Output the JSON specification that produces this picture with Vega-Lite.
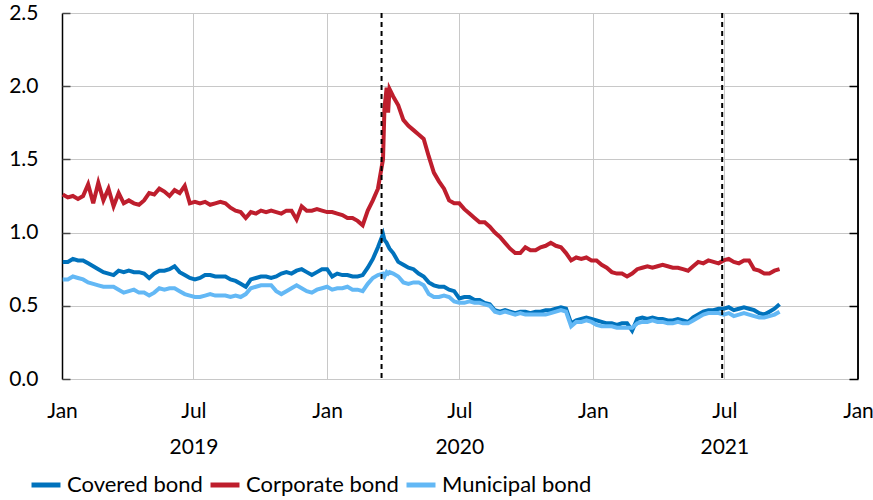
{
 "$schema": "https://vega.github.io/schema/vega-lite/v6.json",
 "width": 796, "height": 366,
 "autosize": {"type": "none"},
 "padding": {"left": 62, "top": 13, "right": 15, "bottom": 121},
 "config": {"font": "Lato", "view": {"stroke": null}, "axis": {"labelFont": "Lato", "labelFontSize": 21, "labelColor": "#000"}},
 "datasets": {
  "main": [
{"d":"2019-01-02","cov":0.80,"corp":1.26,"mun":0.68},
{"d":"2019-01-09","cov":0.80,"corp":1.24,"mun":0.68},
{"d":"2019-01-16","cov":0.82,"corp":1.25,"mun":0.70},
{"d":"2019-01-23","cov":0.81,"corp":1.23,"mun":0.69},
{"d":"2019-01-30","cov":0.81,"corp":1.25,"mun":0.68},
{"d":"2019-02-06","cov":0.79,"corp":1.33,"mun":0.66},
{"d":"2019-02-13","cov":0.77,"corp":1.20,"mun":0.65},
{"d":"2019-02-20","cov":0.75,"corp":1.34,"mun":0.64},
{"d":"2019-02-27","cov":0.73,"corp":1.22,"mun":0.63},
{"d":"2019-03-06","cov":0.72,"corp":1.30,"mun":0.63},
{"d":"2019-03-13","cov":0.71,"corp":1.18,"mun":0.63},
{"d":"2019-03-20","cov":0.74,"corp":1.27,"mun":0.61},
{"d":"2019-03-27","cov":0.73,"corp":1.20,"mun":0.59},
{"d":"2019-04-03","cov":0.74,"corp":1.22,"mun":0.60},
{"d":"2019-04-10","cov":0.73,"corp":1.20,"mun":0.61},
{"d":"2019-04-17","cov":0.73,"corp":1.19,"mun":0.59},
{"d":"2019-04-24","cov":0.72,"corp":1.22,"mun":0.59},
{"d":"2019-05-01","cov":0.69,"corp":1.27,"mun":0.57},
{"d":"2019-05-08","cov":0.72,"corp":1.26,"mun":0.59},
{"d":"2019-05-15","cov":0.74,"corp":1.30,"mun":0.62},
{"d":"2019-05-22","cov":0.74,"corp":1.28,"mun":0.61},
{"d":"2019-05-29","cov":0.75,"corp":1.25,"mun":0.62},
{"d":"2019-06-05","cov":0.77,"corp":1.29,"mun":0.62},
{"d":"2019-06-12","cov":0.73,"corp":1.27,"mun":0.60},
{"d":"2019-06-19","cov":0.71,"corp":1.32,"mun":0.58},
{"d":"2019-06-26","cov":0.69,"corp":1.20,"mun":0.57},
{"d":"2019-07-03","cov":0.68,"corp":1.21,"mun":0.56},
{"d":"2019-07-10","cov":0.69,"corp":1.20,"mun":0.56},
{"d":"2019-07-17","cov":0.71,"corp":1.21,"mun":0.57},
{"d":"2019-07-24","cov":0.71,"corp":1.19,"mun":0.58},
{"d":"2019-07-31","cov":0.70,"corp":1.20,"mun":0.57},
{"d":"2019-08-07","cov":0.70,"corp":1.21,"mun":0.57},
{"d":"2019-08-14","cov":0.70,"corp":1.20,"mun":0.57},
{"d":"2019-08-21","cov":0.68,"corp":1.17,"mun":0.56},
{"d":"2019-08-28","cov":0.67,"corp":1.15,"mun":0.57},
{"d":"2019-09-04","cov":0.65,"corp":1.14,"mun":0.56},
{"d":"2019-09-11","cov":0.63,"corp":1.10,"mun":0.58},
{"d":"2019-09-18","cov":0.68,"corp":1.14,"mun":0.62},
{"d":"2019-09-25","cov":0.69,"corp":1.13,"mun":0.63},
{"d":"2019-10-02","cov":0.70,"corp":1.15,"mun":0.64},
{"d":"2019-10-09","cov":0.70,"corp":1.14,"mun":0.64},
{"d":"2019-10-16","cov":0.69,"corp":1.15,"mun":0.64},
{"d":"2019-10-23","cov":0.70,"corp":1.14,"mun":0.60},
{"d":"2019-10-30","cov":0.72,"corp":1.13,"mun":0.58},
{"d":"2019-11-06","cov":0.73,"corp":1.15,"mun":0.60},
{"d":"2019-11-13","cov":0.72,"corp":1.15,"mun":0.62},
{"d":"2019-11-20","cov":0.74,"corp":1.09,"mun":0.64},
{"d":"2019-11-27","cov":0.75,"corp":1.18,"mun":0.62},
{"d":"2019-12-04","cov":0.73,"corp":1.15,"mun":0.60},
{"d":"2019-12-11","cov":0.71,"corp":1.15,"mun":0.59},
{"d":"2019-12-18","cov":0.73,"corp":1.16,"mun":0.61},
{"d":"2019-12-25","cov":0.75,"corp":1.15,"mun":0.62},
{"d":"2020-01-01","cov":0.75,"corp":1.14,"mun":0.63},
{"d":"2020-01-08","cov":0.70,"corp":1.14,"mun":0.61},
{"d":"2020-01-15","cov":0.72,"corp":1.13,"mun":0.62},
{"d":"2020-01-22","cov":0.71,"corp":1.12,"mun":0.62},
{"d":"2020-01-29","cov":0.71,"corp":1.10,"mun":0.63},
{"d":"2020-02-05","cov":0.70,"corp":1.10,"mun":0.61},
{"d":"2020-02-12","cov":0.70,"corp":1.08,"mun":0.61},
{"d":"2020-02-19","cov":0.71,"corp":1.05,"mun":0.60},
{"d":"2020-02-26","cov":0.76,"corp":1.15,"mun":0.65},
{"d":"2020-03-04","cov":0.82,"corp":1.22,"mun":0.69},
{"d":"2020-03-11","cov":0.90,"corp":1.30,"mun":0.71},
{"d":"2020-03-18","cov":0.99,"corp":1.50,"mun":0.72},
{"d":"2020-03-20","cov":0.95,"corp":1.85,"mun":0.70},
{"d":"2020-03-23","cov":0.93,"corp":1.99,"mun":0.73},
{"d":"2020-03-25","cov":0.91,"corp":1.82,"mun":0.72},
{"d":"2020-03-27","cov":0.89,"corp":1.98,"mun":0.73},
{"d":"2020-04-01","cov":0.86,"corp":1.93,"mun":0.72},
{"d":"2020-04-08","cov":0.80,"corp":1.87,"mun":0.70},
{"d":"2020-04-15","cov":0.78,"corp":1.77,"mun":0.66},
{"d":"2020-04-22","cov":0.76,"corp":1.73,"mun":0.65},
{"d":"2020-04-29","cov":0.75,"corp":1.70,"mun":0.66},
{"d":"2020-05-06","cov":0.72,"corp":1.67,"mun":0.66},
{"d":"2020-05-13","cov":0.70,"corp":1.64,"mun":0.64},
{"d":"2020-05-20","cov":0.66,"corp":1.52,"mun":0.58},
{"d":"2020-05-27","cov":0.64,"corp":1.41,"mun":0.56},
{"d":"2020-06-03","cov":0.63,"corp":1.35,"mun":0.56},
{"d":"2020-06-10","cov":0.63,"corp":1.30,"mun":0.57},
{"d":"2020-06-17","cov":0.61,"corp":1.22,"mun":0.56},
{"d":"2020-06-24","cov":0.60,"corp":1.20,"mun":0.53},
{"d":"2020-07-01","cov":0.55,"corp":1.20,"mun":0.52},
{"d":"2020-07-08","cov":0.56,"corp":1.16,"mun":0.52},
{"d":"2020-07-15","cov":0.56,"corp":1.13,"mun":0.53},
{"d":"2020-07-22","cov":0.54,"corp":1.10,"mun":0.52},
{"d":"2020-07-29","cov":0.54,"corp":1.07,"mun":0.52},
{"d":"2020-08-05","cov":0.52,"corp":1.07,"mun":0.51},
{"d":"2020-08-12","cov":0.51,"corp":1.04,"mun":0.50},
{"d":"2020-08-19","cov":0.47,"corp":1.00,"mun":0.46},
{"d":"2020-08-26","cov":0.46,"corp":0.97,"mun":0.45},
{"d":"2020-09-02","cov":0.47,"corp":0.93,"mun":0.46},
{"d":"2020-09-09","cov":0.46,"corp":0.89,"mun":0.45},
{"d":"2020-09-16","cov":0.45,"corp":0.86,"mun":0.44},
{"d":"2020-09-23","cov":0.46,"corp":0.86,"mun":0.45},
{"d":"2020-09-30","cov":0.46,"corp":0.90,"mun":0.44},
{"d":"2020-10-07","cov":0.45,"corp":0.88,"mun":0.44},
{"d":"2020-10-14","cov":0.46,"corp":0.88,"mun":0.44},
{"d":"2020-10-21","cov":0.46,"corp":0.90,"mun":0.44},
{"d":"2020-10-28","cov":0.47,"corp":0.91,"mun":0.44},
{"d":"2020-11-04","cov":0.47,"corp":0.93,"mun":0.45},
{"d":"2020-11-11","cov":0.48,"corp":0.91,"mun":0.46},
{"d":"2020-11-18","cov":0.49,"corp":0.90,"mun":0.47},
{"d":"2020-11-25","cov":0.48,"corp":0.86,"mun":0.46},
{"d":"2020-12-02","cov":0.38,"corp":0.81,"mun":0.36},
{"d":"2020-12-09","cov":0.40,"corp":0.83,"mun":0.39},
{"d":"2020-12-16","cov":0.41,"corp":0.82,"mun":0.39},
{"d":"2020-12-23","cov":0.42,"corp":0.83,"mun":0.40},
{"d":"2020-12-30","cov":0.41,"corp":0.81,"mun":0.39},
{"d":"2021-01-06","cov":0.40,"corp":0.81,"mun":0.37},
{"d":"2021-01-13","cov":0.39,"corp":0.78,"mun":0.36},
{"d":"2021-01-20","cov":0.38,"corp":0.76,"mun":0.36},
{"d":"2021-01-27","cov":0.38,"corp":0.73,"mun":0.36},
{"d":"2021-02-03","cov":0.37,"corp":0.72,"mun":0.35},
{"d":"2021-02-10","cov":0.38,"corp":0.72,"mun":0.35},
{"d":"2021-02-17","cov":0.38,"corp":0.70,"mun":0.35},
{"d":"2021-02-24","cov":0.33,"corp":0.72,"mun":0.35},
{"d":"2021-03-03","cov":0.41,"corp":0.75,"mun":0.38},
{"d":"2021-03-10","cov":0.42,"corp":0.76,"mun":0.39},
{"d":"2021-03-17","cov":0.41,"corp":0.77,"mun":0.39},
{"d":"2021-03-24","cov":0.42,"corp":0.76,"mun":0.40},
{"d":"2021-03-31","cov":0.41,"corp":0.77,"mun":0.39},
{"d":"2021-04-07","cov":0.41,"corp":0.78,"mun":0.39},
{"d":"2021-04-14","cov":0.40,"corp":0.77,"mun":0.38},
{"d":"2021-04-21","cov":0.40,"corp":0.76,"mun":0.38},
{"d":"2021-04-28","cov":0.41,"corp":0.76,"mun":0.39},
{"d":"2021-05-05","cov":0.40,"corp":0.75,"mun":0.38},
{"d":"2021-05-12","cov":0.39,"corp":0.74,"mun":0.38},
{"d":"2021-05-19","cov":0.42,"corp":0.77,"mun":0.40},
{"d":"2021-05-26","cov":0.44,"corp":0.80,"mun":0.42},
{"d":"2021-06-02","cov":0.46,"corp":0.79,"mun":0.44},
{"d":"2021-06-09","cov":0.47,"corp":0.81,"mun":0.45},
{"d":"2021-06-16","cov":0.47,"corp":0.80,"mun":0.45},
{"d":"2021-06-23","cov":0.48,"corp":0.79,"mun":0.45},
{"d":"2021-06-30","cov":0.48,"corp":0.81,"mun":0.44},
{"d":"2021-07-07","cov":0.49,"corp":0.82,"mun":0.45},
{"d":"2021-07-14","cov":0.47,"corp":0.80,"mun":0.43},
{"d":"2021-07-21","cov":0.48,"corp":0.79,"mun":0.44},
{"d":"2021-07-28","cov":0.49,"corp":0.81,"mun":0.45},
{"d":"2021-08-04","cov":0.48,"corp":0.81,"mun":0.44},
{"d":"2021-08-11","cov":0.47,"corp":0.75,"mun":0.43},
{"d":"2021-08-18","cov":0.45,"corp":0.74,"mun":0.42},
{"d":"2021-08-25","cov":0.44,"corp":0.72,"mun":0.42},
{"d":"2021-09-01","cov":0.46,"corp":0.72,"mun":0.43},
{"d":"2021-09-08","cov":0.48,"corp":0.74,"mun":0.44},
{"d":"2021-09-15","cov":0.51,"corp":0.75,"mun":0.46}
  ],
  "events": [{"d": "2020-03-16"}, {"d": "2021-06-28"}]
 },
 "layer": [
  {
   "data": {"name": "main"},
   "transform": [{"fold": ["cov", "corp", "mun"], "as": ["s", "v"]}],
   "mark": {"type": "line", "strokeWidth": 4},
   "encoding": {
    "x": {"field": "d", "type": "temporal",
     "scale": {"domain": [{"year": 2019, "month": 1, "date": 1}, {"year": 2022, "month": 1, "date": 1}]},
     "axis": {"title": null,
      "values": [{"year": 2019, "month": 1, "date": 1}, {"year": 2019, "month": 7, "date": 1}, {"year": 2020, "month": 1, "date": 1}, {"year": 2020, "month": 7, "date": 1}, {"year": 2021, "month": 1, "date": 1}, {"year": 2021, "month": 7, "date": 1}, {"year": 2022, "month": 1, "date": 1}],
      "grid": true, "gridColor": "#c8c8c8", "ticks": false, "domain": false,
      "labelExpr": "month(datum.value) == 6 ? ['Jul', '' + year(datum.value)] : 'Jan'",
      "labelPadding": 21, "labelLineHeight": 36, "labelOverlap": false, "labelFlush": false, "labelBound": false}},
    "y": {"field": "v", "type": "quantitative", "scale": {"domain": [0, 2.5], "nice": false, "zero": false},
     "axis": {"title": null, "values": [0, 0.5, 1, 1.5, 2, 2.5], "format": ".1f", "grid": true, "gridColor": "#c8c8c8",
      "domainColor": "#000", "domainWidth": 1.5, "ticks": false, "labelPadding": 24}},
    "color": {"field": "s", "type": "nominal",
     "scale": {"domain": ["cov", "corp", "mun"], "range": ["#0072BC", "#BE1E2D", "#63B8F5"]},
     "legend": {"title": null, "orient": "none", "legendX": -33, "legendY": 455, "direction": "horizontal",
      "symbolType": "stroke", "symbolStrokeWidth": 5, "symbolSize": 840, "labelFontSize": 22, "labelOffset": 4, "columnPadding": -3,
      "labelExpr": "{'cov': 'Covered bond', 'corp': 'Corporate bond', 'mun': 'Municipal bond'}[datum.label]"}}
   }
  },
  {
   "data": {"name": "main"},
   "mark": {"type": "line", "opacity": 0},
   "encoding": {
    "x": {"field": "d", "type": "temporal"},
    "y": {"field": "cov", "type": "quantitative", "scale": {"domain": [0, 2.5], "nice": false, "zero": false},
     "axis": {"orient": "left", "offset": -8, "title": null, "labels": false, "grid": false, "domain": false, "values": [0, 0.5, 1, 1.5, 2, 2.5],
      "tickColor": "#444", "tickSize": 8, "tickWidth": 1.5}}
   }
  },
  {
   "data": {"name": "main"},
   "mark": {"type": "line", "opacity": 0},
   "encoding": {
    "x": {"field": "d", "type": "temporal"},
    "y": {"field": "mun", "type": "quantitative", "scale": {"domain": [0, 2.5], "nice": false, "zero": false},
     "axis": {"orient": "right", "offset": -9, "title": null, "labels": false, "grid": false, "domain": false, "values": [0, 0.5, 1, 1.5, 2, 2.5],
      "tickColor": "#000", "tickSize": 9, "tickWidth": 1.5}}
   }
  },
  {
   "data": {"name": "events"},
   "mark": {"type": "rule", "strokeDash": [5, 4], "strokeWidth": 2, "color": "#000"},
   "encoding": {"x": {"field": "d", "type": "temporal"}}
  },
  {
   "data": {"name": "events"},
   "mark": {"type": "rule", "color": "#000", "strokeWidth": 1.5},
   "encoding": {"x": {"datum": {"year": 2022, "month": 1, "date": 1}, "type": "temporal"}}
  }
 ],
 "resolve": {"axis": {"y": "independent"}}
}
